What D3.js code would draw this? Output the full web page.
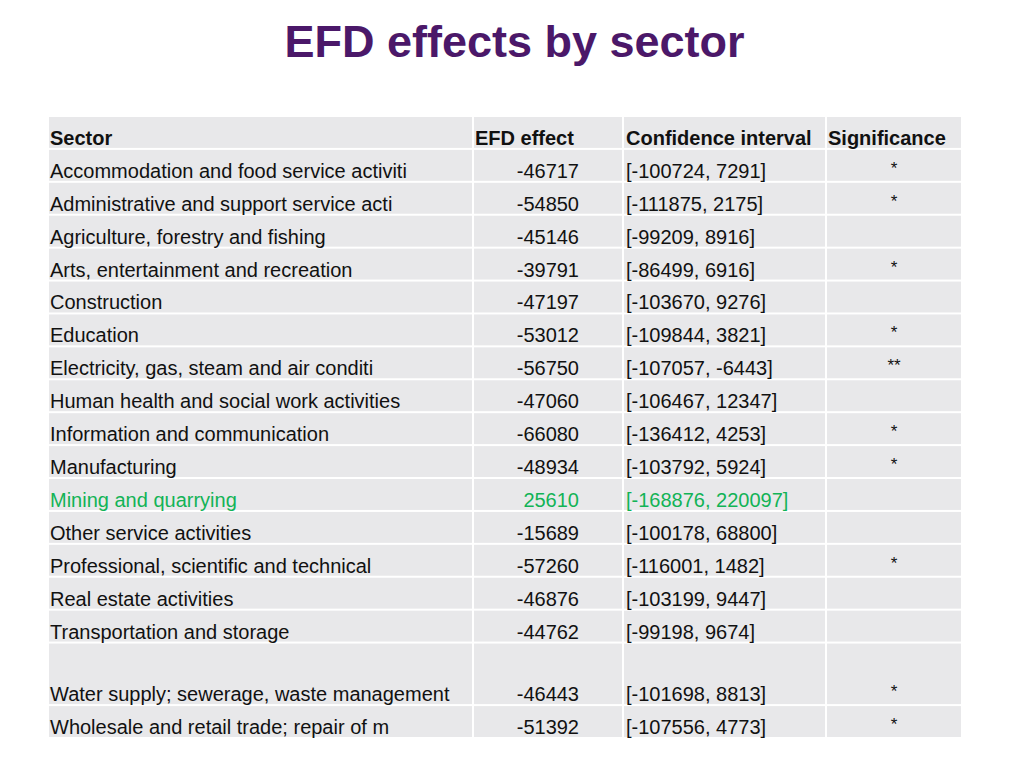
<!DOCTYPE html>
<html>
<head>
<meta charset="utf-8">
<script src="https://cdn.jsdelivr.net/npm/d3@7"></script>
<style>
  html, body { margin: 0; padding: 0; background: #ffffff; }
  svg { display: block; font-family: "Liberation Sans", Arial, Helvetica, sans-serif; }
</style>
</head>
<body>
<svg id="chart" width="1024" height="768"></svg>
<script>
// ---- data ----
const title = "EFD effects by sector";
const headers = ["Sector", "EFD effect", "Confidence interval", "Significance"];
const sectors = [
  "Accommodation and food service activiti",
  "Administrative and support service acti",
  "Agriculture, forestry and fishing",
  "Arts, entertainment and recreation",
  "Construction",
  "Education",
  "Electricity, gas, steam and air conditi",
  "Human health and social work activities",
  "Information and communication",
  "Manufacturing",
  "Mining and quarrying",
  "Other service activities",
  "Professional, scientific and technical",
  "Real estate activities",
  "Transportation and storage",
  "Water supply; sewerage, waste management",
  "Wholesale and retail trade; repair of m"
];
const effects = [-46717, -54850, -45146, -39791, -47197, -53012, -56750, -47060, -66080, -48934, 25610, -15689, -57260, -46876, -44762, -46443, -51392];
const ciLow = [-100724, -111875, -99209, -86499, -103670, -109844, -107057, -106467, -136412, -103792, -168876, -100178, -116001, -103199, -99198, -101698, -107556];
const ciHigh = [7291, 2175, 8916, 6916, 9276, 3821, -6443, 12347, 4253, 5924, 220097, 68800, 1482, 9447, 9674, 8813, 4773];
const significance = ["*", "*", "", "*", "", "*", "**", "", "*", "*", "", "", "*", "", "", "*", "*"];
const highlighted = ["Mining and quarrying"];

// ---- layout ----
const svg = d3.select("#chart");
const colEdges = [48, 473, 623, 826, 962];
const tallRows = new Set(["Water supply; sewerage, waste management"]);
const rowKeys = ["__header__"].concat(sectors);
const weights = rowKeys.map(k => tallRows.has(k) ? 1.9 : 1);
const cum = [0];
weights.forEach((w, i) => cum.push(cum[i] + w));
const y = d3.scaleLinear().domain([0, cum[cum.length - 1]]).range([116, 738]);

const colX = d3.scaleOrdinal().domain(d3.range(4)).range(colEdges.slice(0, 4));
const colW = i => colEdges[i + 1] - colEdges[i];

svg.append("text")
  .attr("x", 514.5).attr("y", 57)
  .attr("text-anchor", "middle")
  .attr("font-size", 45).attr("font-weight", "bold")
  .attr("fill", "#4b1869")
  .text(title);

const rowsData = rowKeys.map((k, r) => {
  if (r === 0) return { header: true, cells: headers };
  const i = r - 1;
  return {
    header: false,
    hl: highlighted.includes(sectors[i]),
    cells: [sectors[i], String(effects[i]), "[" + ciLow[i] + ", " + ciHigh[i] + "]", significance[i]]
  };
});

const rows = svg.selectAll("g.row").data(rowsData).join("g").attr("class", "row");

rows.each(function(d, r) {
  const g = d3.select(this);
  const top = y(cum[r]), bot = y(cum[r + 1]);
  d.cells.forEach((txt, c) => {
    g.append("rect")
      .attr("x", colX(c) + 1).attr("y", top + 1)
      .attr("width", colW(c) - 2).attr("height", bot - top - 2)
      .attr("fill", "#e8e8ea");
    let anchor = "start", tx = colX(c) + 2, ty = bot - 4, fs = 20;
    if (!d.header) {
      if (c === 1) { anchor = "end"; tx = 579; }
      else if (c === 3) { anchor = "middle"; tx = colX(c) + colW(c) / 2; ty = bot - 8; fs = 17; }
      else if (c === 2) { tx = colX(c) + 3; }
    } else if (c === 2) { tx = colX(c) + 3; }
    g.append("text")
      .attr("x", tx).attr("y", ty)
      .attr("text-anchor", anchor)
      .attr("font-size", fs)
      .attr("font-weight", d.header ? "bold" : "normal")
      .attr("fill", d.hl ? "#12b356" : "#111111")
      .text(txt);
  });
});
</script>
</body>
</html>
